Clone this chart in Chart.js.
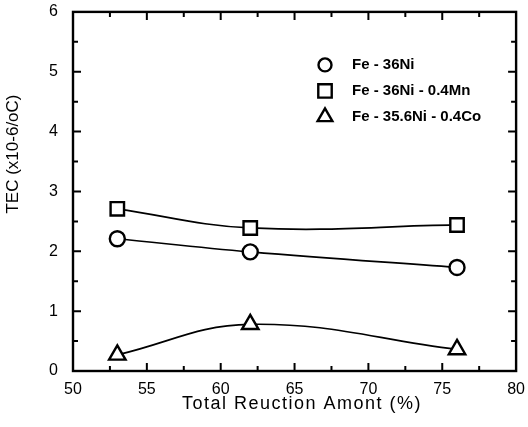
<!DOCTYPE html>
<html>
<head>
<meta charset="utf-8">
<script src="https://cdn.jsdelivr.net/npm/chart.js@4/dist/chart.umd.min.js"></script>
<style>
  html, body { margin: 0; padding: 0; background: #fff; }
  #wrap { width: 528px; height: 427px; }
</style>
</head>
<body>
<div id="wrap"><canvas id="c" width="528" height="427"></canvas></div>
<script>
// Reduction amount (%) and thermal expansion coefficient for three alloys
const reduction = [53, 62, 76];
const tecFeNi = [2.21, 1.99, 1.73];
const tecFeNiMn = [2.71, 2.39, 2.44];
const tecFeNiCo = [0.27, 0.78, 0.36];
const seriesNames = ['Fe - 36Ni', 'Fe - 36Ni - 0.4Mn', 'Fe - 35.6Ni - 0.4Co'];
const markerStyles = ['circle', 'rect', 'triangle'];
const markerRadius = { circle: 7.5, rect: 9.5, triangle: 9.5 };

const xTicks = { min: 50, max: 80, major: 5, minor: 2.5 };
const yTicks = { min: 0, max: 6, major: 1, minor: 0.5 };
const xTitle = 'Total Reuction Amont (%)';
const yTitle = 'TEC (x10-6/oC)';

const FONT = '"Liberation Sans", Arial, sans-serif';

function toPoints(xs, ys) { return xs.map((x, i) => ({ x, y: ys[i] })); }

const seriesValues = [tecFeNi, tecFeNiMn, tecFeNiCo];
const datasets = seriesValues.map((vals, i) => ({
  label: seriesNames[i],
  data: toPoints(reduction, vals),
  borderColor: '#000',
  borderWidth: 1.7,
  backgroundColor: '#fff',
  pointStyle: markerStyles[i],
  pointRadius: markerRadius[markerStyles[i]],
  pointBorderWidth: 2.4,
  pointBackgroundColor: '#fff',
  pointBorderColor: '#000',
  tension: 0.4,
  fill: false
}));

// Frame with inward ticks on all four sides, axis titles and the in-plot legend
const framePlugin = {
  id: 'frame',
  afterDraw(chart) {
    const { ctx, chartArea: a, scales } = chart;
    const xs = scales.x, ys = scales.y;
    ctx.save();
    ctx.strokeStyle = '#000';
    ctx.lineWidth = 2.4;
    ctx.strokeRect(a.left, a.top, a.right - a.left, a.bottom - a.top);
    ctx.lineWidth = 2;
    const eps = 1e-9;
    for (let v = xTicks.min + xTicks.minor; v < xTicks.max - eps; v += xTicks.minor) {
      const isMajor = Math.abs(v / xTicks.major - Math.round(v / xTicks.major)) < 1e-6;
      const len = isMajor ? 8 : 5;
      const px = xs.getPixelForValue(v);
      ctx.beginPath();
      ctx.moveTo(px, a.bottom); ctx.lineTo(px, a.bottom - len);
      ctx.moveTo(px, a.top); ctx.lineTo(px, a.top + len);
      ctx.stroke();
    }
    for (let v = yTicks.min + yTicks.minor; v < yTicks.max - eps; v += yTicks.minor) {
      const isMajor = Math.abs(v / yTicks.major - Math.round(v / yTicks.major)) < 1e-6;
      const len = isMajor ? 8 : 5;
      const py = ys.getPixelForValue(v);
      ctx.beginPath();
      ctx.moveTo(a.left, py); ctx.lineTo(a.left + len, py);
      ctx.moveTo(a.right, py); ctx.lineTo(a.right - len, py);
      ctx.stroke();
    }

    // axis titles
    ctx.fillStyle = '#000';
    ctx.textAlign = 'center';
    ctx.textBaseline = 'middle';
    ctx.font = '18px ' + FONT;
    ctx.letterSpacing = '1.5px';
    ctx.fillText(xTitle, 302, 404);
    ctx.letterSpacing = '0px';
    ctx.save();
    ctx.translate(13, 154);
    ctx.rotate(-Math.PI / 2);
    ctx.font = '17px ' + FONT;
    ctx.fillText(yTitle, 0, 0);
    ctx.restore();

    // legend
    const lx = a.left + 252, ly0 = a.top + 53, dy = 26;
    ctx.font = 'bold 15px ' + FONT;
    ctx.textAlign = 'left';
    chart.data.datasets.forEach((ds, i) => {
      const y = ly0 + i * dy;
      ctx.fillStyle = '#fff';
      ctx.strokeStyle = '#000';
      ctx.lineWidth = 2.4;
      Chart.helpers.drawPoint(ctx, {
        pointStyle: ds.pointStyle,
        radius: ds.pointStyle === 'circle' ? 6.5 : (ds.pointStyle === 'rect' ? 9.5 : 8.5),
        borderWidth: 2.4
      }, lx, y);
      ctx.fillStyle = '#000';
      ctx.fillText(ds.label, lx + 27, y);
    });
    ctx.restore();
  }
};

new Chart(document.getElementById('c'), {
  type: 'line',
  data: { datasets },
  options: {
    responsive: false,
    animation: false,
    layout: { padding: { left: 0, right: 11, top: 10, bottom: 0 } },
    plugins: { legend: { display: false }, tooltip: { enabled: false } },
    scales: {
      x: {
        type: 'linear',
        min: xTicks.min, max: xTicks.max,
        grid: { display: false },
        border: { display: false },
        ticks: { stepSize: xTicks.major, color: '#000', font: { family: FONT, size: 16 }, padding: 1, maxRotation: 0 },
        afterFit(s) { s.height = 56; s.paddingLeft = 0; s.paddingRight = 0; }
      },
      y: {
        type: 'linear',
        min: yTicks.min, max: yTicks.max,
        grid: { display: false },
        border: { display: false },
        ticks: { stepSize: yTicks.major, color: '#000', font: { family: FONT, size: 16 }, padding: 7 },
        afterFit(s) { s.width = 73; s.paddingTop = 0; s.paddingBottom = 0; }
      }
    }
  },
  plugins: [framePlugin]
});
</script>
</body>
</html>
